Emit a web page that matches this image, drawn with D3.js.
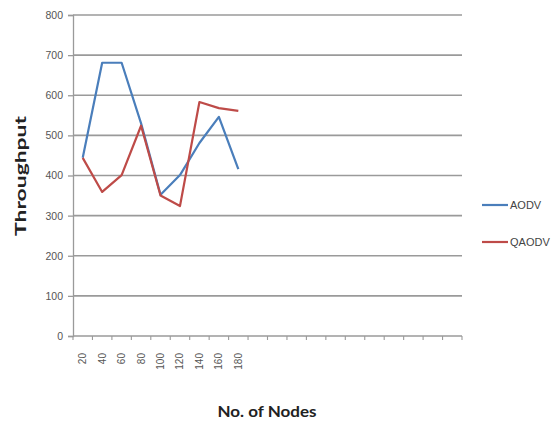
<!DOCTYPE html>
<html>
<head>
<meta charset="utf-8">
<script src="https://cdn.jsdelivr.net/npm/d3@7"></script>
<style>
  html, body { margin: 0; padding: 0; background: #fff; }
  svg { display: block; }
</style>
</head>
<body>
<svg id="chart" width="556" height="423"></svg>
<script>
// Node counts on the x axis (the remaining slots are empty categories)
const nodes = ["20", "40", "60", "80", "100", "120", "140", "160", "180"];
const emptySlots = 11;
const aodv  = [444, 681, 681, 530, 352, 401, 481, 546, 416];
const qaodv = [444, 359, 401, 524, 350, 324, 583, 568, 561];
const yTicks = [0, 100, 200, 300, 400, 500, 600, 700, 800];
const seriesNames = ["AODV", "QAODV"];
const seriesColors = ["#4a7ebb", "#be4b48"];

const svg = d3.select("#chart");
const plot = { left: 73, right: 462, top: 15, bottom: 336 };

const categories = nodes.concat(d3.range(emptySlots).map(i => "_" + i));
const x = d3.scaleBand().domain(categories).range([plot.left, plot.right]);
const y = d3.scaleLinear().domain([0, 800]).range([plot.bottom, plot.top]);

// Horizontal gridlines
svg.append("g")
  .selectAll("line")
  .data(yTicks.filter(d => d > 0))
  .join("line")
  .attr("x1", plot.left).attr("x2", plot.right)
  .attr("y1", d => y(d)).attr("y2", d => y(d))
  .attr("stroke", "#9a9a9a").attr("stroke-width", 1.6);

// Y axis
const yAxis = svg.append("g")
  .attr("transform", `translate(${plot.left},0)`)
  .call(d3.axisLeft(y).tickValues(yTicks).tickSize(5).tickPadding(5));
yAxis.select(".domain").attr("stroke", "#9a9a9a").attr("stroke-width", 1.3);
yAxis.selectAll(".tick line").attr("stroke", "#9a9a9a").attr("stroke-width", 1.3);
yAxis.selectAll("text")
  .attr("fill", "#555").attr("font-family", "Liberation Sans, sans-serif").attr("font-size", 10.5);

// X axis: ticks sit on category boundaries
const xAxisG = svg.append("g").attr("transform", `translate(0,${plot.bottom})`);
xAxisG.append("line")
  .attr("x1", plot.left).attr("x2", plot.right)
  .attr("stroke", "#9a9a9a").attr("stroke-width", 1.3);
const boundaries = categories.map(c => x(c)).concat([plot.right]);
xAxisG.selectAll("line.tk")
  .data(boundaries)
  .join("line").attr("class", "tk")
  .attr("x1", d => d).attr("x2", d => d)
  .attr("y1", 0).attr("y2", 4)
  .attr("stroke", "#9a9a9a").attr("stroke-width", 1.1);
xAxisG.selectAll("text")
  .data(nodes)
  .join("text")
  .attr("transform", d => `translate(${x(d) + x.bandwidth() / 2 + 3.5},${17}) rotate(-90)`)
  .attr("text-anchor", "end")
  .attr("fill", "#555").attr("font-family", "Liberation Sans, sans-serif").attr("font-size", 10)
  .text(d => d);

// Series lines
const line = d3.line()
  .x((d, i) => x(nodes[i]) + x.bandwidth() / 2)
  .y(d => y(d));
[aodv, qaodv].forEach((s, k) => {
  svg.append("path")
    .datum(s)
    .attr("d", line)
    .attr("fill", "none")
    .attr("stroke", seriesColors[k])
    .attr("stroke-width", 2.2)
    .attr("stroke-linejoin", "round");
});

// Axis titles
svg.append("text")
  .attr("transform", `translate(26,176) rotate(-90)`)
  .attr("text-anchor", "middle")
  .attr("font-family", "Lato, sans-serif").attr("font-weight", "bold").attr("font-size", 15)
  .attr("textLength", 120).attr("lengthAdjust", "spacingAndGlyphs")
  .attr("fill", "#222")
  .text("Throughput");
svg.append("text")
  .attr("x", 267).attr("y", 417)
  .attr("text-anchor", "middle")
  .attr("font-family", "Lato, sans-serif").attr("font-weight", "bold").attr("font-size", 16)
  .attr("textLength", 99).attr("lengthAdjust", "spacingAndGlyphs")
  .attr("fill", "#222")
  .text("No. of Nodes");

// Legend
const legend = svg.append("g");
seriesNames.forEach((name, k) => {
  const ly = 205 + k * 37;
  legend.append("line")
    .attr("x1", 482).attr("x2", 508).attr("y1", ly).attr("y2", ly)
    .attr("stroke", seriesColors[k]).attr("stroke-width", 2.2);
  legend.append("text")
    .attr("x", 510).attr("y", ly + 4)
    .attr("font-family", "Liberation Sans, sans-serif").attr("font-size", 11)
    .attr("fill", "#444")
    .text(name);
});
</script>
</body>
</html>
